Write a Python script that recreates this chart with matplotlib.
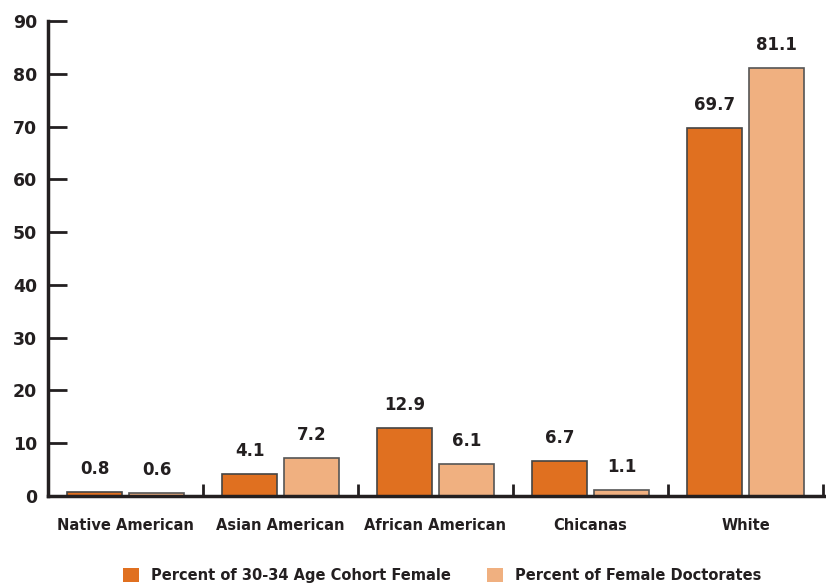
# Female doctorates vs. 30-34 age cohort by race/ethnicity

import matplotlib.pyplot as plt
import numpy as np

# Data
groups = ['Native American', 'Asian American', 'African American', 'Chicanas', 'White']
cohort = [0.8, 4.1, 12.9, 6.7, 69.7]
doctorates = [0.6, 7.2, 6.1, 1.1, 81.1]
series_names = ['Percent of 30-34 Age Cohort Female', 'Percent of Female Doctorates']

dark = '#E07020'
light = '#F0B080'
ink = '#231F20'

plt.rcParams['font.family'] = ['DejaVu Sans']
plt.rcParams['font.weight'] = 'bold'

fig = plt.figure(figsize=(8.26, 5.86), dpi=100)
ax = fig.add_axes([48 / 826, 1 - 496 / 586, 778 / 826, 475 / 586])

x = np.arange(len(groups)) + 0.5
w = 0.36
b1 = ax.bar(x - 0.2, cohort, w, color=dark, edgecolor='#444444', linewidth=1.2,
            label=series_names[0])
b2 = ax.bar(x + 0.2, doctorates, w, color=light, edgecolor='#555555', linewidth=1.2,
            label=series_names[1])

for bars in (b1, b2):
    for r in bars:
        ax.annotate(f'{r.get_height():.1f}', (r.get_x() + r.get_width() / 2, r.get_height()),
                    xytext=(0, 10), textcoords='offset points', ha='center', va='bottom',
                    fontsize=12, fontweight='bold', color=ink)

ax.set_xlim(0, 778 / 155)
ax.set_ylim(0, 90)
ax.set_yticks(range(0, 91, 10))
ax.tick_params(axis='y', direction='in', length=14, width=2, color=ink, pad=8,
               labelsize=12.5, labelcolor=ink)

# ticks between groups on the x axis
ax.set_xticks(np.arange(1, len(groups) + 1))
ax.set_xticklabels([])
ax.tick_params(axis='x', direction='in', length=9, width=2, color=ink)
ax.set_xticks(x, minor=True)
ax.set_xticklabels(groups, minor=True, fontsize=10.5, fontweight='bold', color=ink)
ax.tick_params(axis='x', which='minor', length=0, pad=16)

for s in ('top', 'right'):
    ax.spines[s].set_visible(False)
for s in ('left', 'bottom'):
    ax.spines[s].set_linewidth(2.5)
    ax.spines[s].set_color(ink)

fig.legend(handles=[b1, b2], loc='lower center', bbox_to_anchor=(0.535, -0.017), ncol=2,
           frameon=False, fontsize=10.5, handlelength=1.1, handleheight=1.1,
           columnspacing=2.5, handletextpad=0.8, labelcolor=ink)
for h in fig.legends[0].legend_handles:
    h.set_edgecolor('none')

fig.savefig('out.png', dpi=100)
